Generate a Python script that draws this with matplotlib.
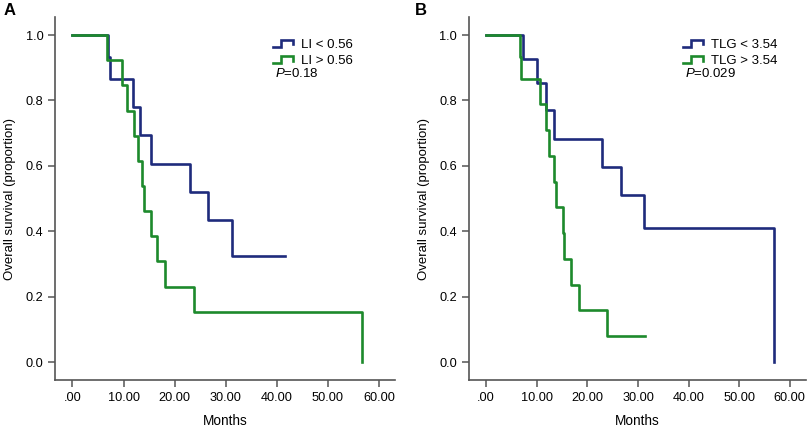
import matplotlib
matplotlib.use("Agg")
import matplotlib.pyplot as plt
from matplotlib.legend_handler import HandlerBase
from matplotlib.lines import Line2D

plt.rcParams['font.family'] = ['Liberation Sans', 'DejaVu Sans']
plt.rcParams['mathtext.fontset'] = 'custom'
plt.rcParams['mathtext.it'] = 'Liberation Sans:italic'
plt.rcParams['mathtext.rm'] = 'Liberation Sans'

# --- donnees (mois, survie apres chaque evenement) ---
# Panel A : LI
li_low_t = [6.9, 7.4, 11.9, 13.3, 15.4, 23.0, 26.6, 31.3]
li_low_s = [0.933, 0.867, 0.780, 0.693, 0.607, 0.520, 0.433, 0.325]
li_low_end = 41.6

li_high_t = [6.8, 9.7, 10.7, 12.0, 12.8, 13.6, 14.1, 15.4, 16.6, 18.2, 23.8, 56.7]
li_high_s = [0.923, 0.846, 0.769, 0.692, 0.615, 0.538, 0.462, 0.385, 0.308, 0.231, 0.154, 0.0]
li_high_end = 56.7

# Panel B : TLG
tlg_low_t = [7.3, 10.0, 11.9, 13.5, 22.8, 26.6, 31.2, 56.8]
tlg_low_s = [0.928, 0.855, 0.771, 0.681, 0.596, 0.511, 0.409, 0.0]
tlg_low_end = 56.8

tlg_high_t = [6.7, 6.9, 10.7, 11.8, 12.5, 13.4, 13.7, 15.2, 15.4, 16.7, 18.3, 23.9]
tlg_high_s = [0.933, 0.867, 0.788, 0.709, 0.630, 0.551, 0.473, 0.394, 0.315, 0.236, 0.158, 0.079]
tlg_high_end = 31.3

x_ticks = [0, 10, 20, 30, 40, 50, 60]
x_ticklabels = ['.00', '10.00', '20.00', '30.00', '40.00', '50.00', '60.00']
y_ticks = [0.0, 0.2, 0.4, 0.6, 0.8, 1.0]

BLEU = '#1e2b7c'
VERT = '#1d8a2c'
GRIS = '#555555'


# icone en escalier pour la legende
class HandlerEscalier(HandlerBase):
    def create_artists(self, legend, orig_handle, xdescent, ydescent,
                       width, height, fontsize, trans):
        x0 = -xdescent
        y0 = -ydescent
        xs = [x0, x0 + width * 0.4, x0 + width * 0.4, x0 + width, x0 + width]
        ys = [y0 + height * 0.15, y0 + height * 0.15, y0 + height * 0.85,
              y0 + height * 0.85, y0 + height * 0.4]
        l = Line2D(xs, ys, color=orig_handle.get_color(),
                   lw=orig_handle.get_linewidth(), solid_joinstyle='miter')
        l.set_transform(trans)
        return [l]


def courbe(ax, t, s, fin, couleur, label):
    xs = [0] + t + [fin]
    ys = [1.0] + s + [s[-1]]
    ln, = ax.step(xs, ys, where='post', color=couleur, lw=1.9, label=label)
    return ln


def panneau(ax, lettre, series, ptxt, leg_x, lettre_x):
    handles = []
    for t, s, fin, c, lab in series:
        handles.append(courbe(ax, t, s, fin, c, lab))
    ax.set_xlim(-3.4, 63.2)
    ax.set_ylim(-0.055, 1.055)
    ax.set_xticks(x_ticks)
    ax.set_xticklabels(x_ticklabels)
    ax.set_yticks(y_ticks)
    ax.set_yticklabels(['%.1f' % v for v in y_ticks])
    for sp in ['top', 'right']:
        ax.spines[sp].set_visible(False)
    for sp in ['left', 'bottom']:
        ax.spines[sp].set_color(GRIS)
        ax.spines[sp].set_linewidth(1.2)
    ax.tick_params(colors=GRIS, labelcolor='black', labelsize=9.2, length=5, width=1.1)
    ax.set_xlabel('Months', fontsize=9.8, labelpad=7)
    ax.set_ylabel('Overall survival (proportion)', fontsize=9.5, labelpad=7)
    leg = ax.legend(handles=handles, handler_map={Line2D: HandlerEscalier()},
                    loc='upper left', bbox_to_anchor=(leg_x, 0.94), frameon=False,
                    fontsize=9.5, handlelength=1.5, handletextpad=0.6,
                    labelspacing=0.3, borderaxespad=0, borderpad=0)
    ax.text(leg_x + 0.005, 0.846, ptxt, transform=ax.transAxes, fontsize=9.5,
            va='center', ha='left')
    ax.text(lettre_x, 1.018, lettre, transform=ax.transAxes, fontsize=12,
            fontweight='bold', va='center', ha='center')


fig = plt.figure(figsize=(8.1, 4.28), dpi=100)
axA = fig.add_axes([0.068, 0.112, 0.420, 0.848])
axB = fig.add_axes([0.579, 0.112, 0.416, 0.848])

panneau(axA, 'A',
        [(li_low_t, li_low_s, li_low_end, BLEU, 'LI < 0.56'),
         (li_high_t, li_high_s, li_high_end, VERT, 'LI > 0.56')],
        r'$\mathit{P}$=0.18', 0.64, -0.135)
panneau(axB, 'B',
        [(tlg_low_t, tlg_low_s, tlg_low_end, BLEU, 'TLG < 3.54'),
         (tlg_high_t, tlg_high_s, tlg_high_end, VERT, 'TLG > 3.54')],
        r'$\mathit{P}$=0.029', 0.635, -0.143)

fig.savefig('out.png', dpi=100)
